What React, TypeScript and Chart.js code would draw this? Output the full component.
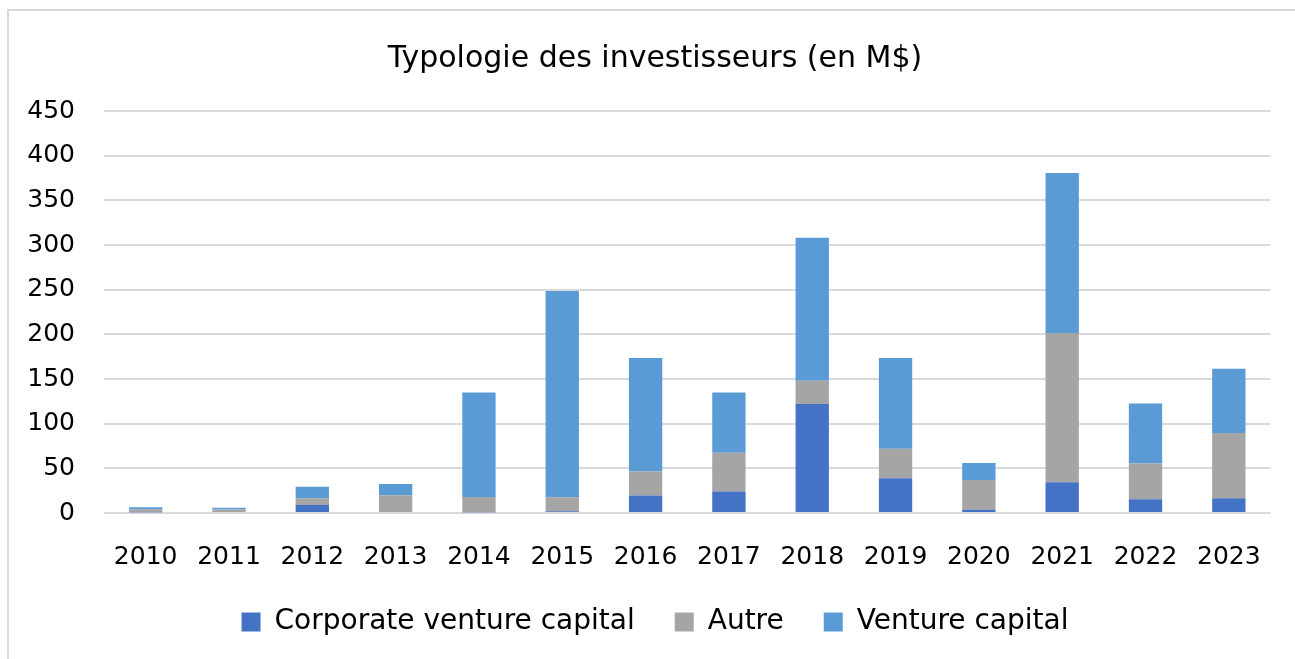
import React, { useEffect, useRef } from "react";
import { Chart, registerables } from "chart.js";

Chart.register(...registerables);

const years = ["2010","2011","2012","2013","2014","2015","2016","2017","2018","2019","2020","2021","2022","2023"];
const corporateVC = [0.8, 0, 9, 0, 0.8, 2, 19.5, 24, 122, 39, 3.5, 34.5, 15.5, 16.5];
const autre = [3, 4, 7.5, 20, 17, 15.5, 27, 43.5, 26, 33, 33.5, 167, 40, 73];
const ventureCapital = [2.7, 2, 13, 12.5, 117, 231, 127, 67.5, 160, 101.5, 19, 179, 67, 72];

const FONT = "'DejaVu Sans', sans-serif";

export default function App() {
  const ref = useRef<HTMLCanvasElement>(null);
  useEffect(() => {
    document.body.style.margin = "0";
    const chart = new Chart(ref.current!, {
      type: "bar",
      data: {
        labels: years,
        datasets: [
          { label: "Corporate venture capital", data: corporateVC, backgroundColor: "#4472C4" },
          { label: "Autre", data: autre, backgroundColor: "#A5A5A5" },
          { label: "Venture capital", data: ventureCapital, backgroundColor: "#5B9BD5" },
        ],
      },
      options: {
        animation: false,
        responsive: false,
        maintainAspectRatio: false,
        layout: { padding: { left: 16, right: 10, top: 10, bottom: 13 } },
        datasets: { bar: { categoryPercentage: 1, barPercentage: 0.4 } },
        scales: {
          x: {
            stacked: true,
            afterFit: (scale: any) => { scale.height = 55; },
            grid: { display: false, drawTicks: false },
            border: { display: false },
            ticks: { color: "#000", font: { family: FONT, size: 25, lineHeight: 0.8 }, padding: 34 },
          },
          y: {
            stacked: true,
            min: 0,
            max: 450,
            afterFit: (scale: any) => { scale.width = 79; },
            ticks: { stepSize: 50, color: "#000", font: { family: FONT, size: 25 }, padding: 29 },
            grid: { color: "#d9d9d9", lineWidth: 2, drawTicks: false },
            border: { display: false },
          },
        },
        plugins: {
          tooltip: { enabled: false },
          title: {
            display: true,
            text: "Typologie des investisseurs (en M$)",
            color: "#000",
            font: { family: FONT, size: 30, weight: "normal" },
            padding: { top: 20, bottom: 34 },
          },
          legend: {
            position: "bottom",
            labels: {
              color: "#000",
              font: { family: FONT, size: 28 },
              boxWidth: 19,
              boxHeight: 19,
              padding: 40,
            },
          },
        },
      },
    });
    return () => chart.destroy();
  }, []);
  return (
    <div style={{ position: "fixed", left: 0, top: 0, width: 1295, height: 659, overflow: "hidden", background: "#fff" }}>
      <div style={{ position: "absolute", left: 7, top: 9, width: 1286, height: 648, borderLeft: "2px solid #d9d9d9", borderTop: "2px solid #d9d9d9" }}>
        <canvas ref={ref} width={1286} height={648} style={{ display: "block" }} />
      </div>
    </div>
  );
}
